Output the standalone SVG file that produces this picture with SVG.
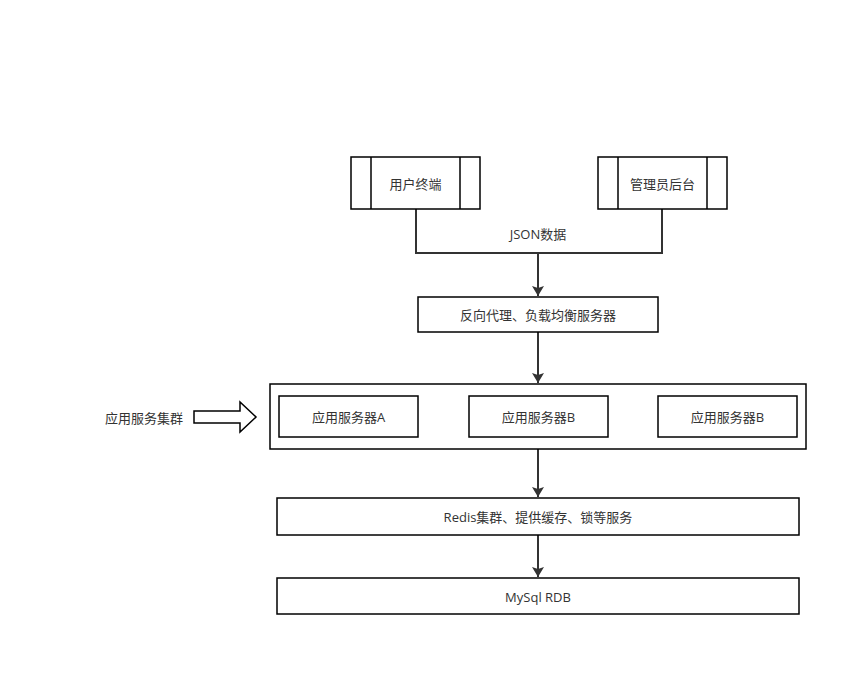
<svg xmlns="http://www.w3.org/2000/svg" width="868" height="677" viewBox="0 0 868 677">
<defs>
<style>
.box{fill:#fff;stroke:#000;stroke-width:1.5}
.ln{fill:none;stroke:#333;stroke-width:2}
.t{font-family:"Open Sans","Noto Sans CJK SC",sans-serif;font-size:13px;fill:#333;text-anchor:middle;dominant-baseline:central}
</style>
<marker id="ah" markerWidth="10" markerHeight="12" viewBox="0 0 10 12" refX="10" refY="6" orient="auto" markerUnits="userSpaceOnUse">
<path d="M0,0 L10,6 L0,12 L2,6 Z" fill="#333"/>
</marker>
</defs>
<rect width="868" height="677" fill="#fff"/>
<g id="connectors">
<path class="ln" d="M416,209 V253 H662 V209"/>
<path class="ln" d="M538,253 V296" marker-end="url(#ah)"/>
<path class="ln" d="M538,332 V383" marker-end="url(#ah)"/>
<path class="ln" d="M538,449 V497" marker-end="url(#ah)"/>
<path class="ln" d="M538,535 V577" marker-end="url(#ah)"/>
<text class="t" x="538" y="234">JSON数据</text>
</g>
<g id="user-terminal">
<rect class="box" x="351" y="157" width="129" height="52"/>
<line class="box" x1="371" y1="157" x2="371" y2="209"/>
<line class="box" x1="460" y1="157" x2="460" y2="209"/>
<text class="t" x="415.5" y="184">用户终端</text>
</g>
<g id="admin">
<rect class="box" x="598" y="157" width="129" height="52"/>
<line class="box" x1="618" y1="157" x2="618" y2="209"/>
<line class="box" x1="707" y1="157" x2="707" y2="209"/>
<text class="t" x="662.5" y="184">管理员后台</text>
</g>
<g id="proxy">
<rect class="box" x="418" y="297" width="240" height="35"/>
<text class="t" x="538" y="315">反向代理、负载均衡服务器</text>
</g>
<g id="cluster-label">
<text class="t" x="144" y="418">应用服务集群</text>
<path class="box" d="M194,411 H240 V402 L256,417 L240,432 V423 H194 Z"/>
</g>
<g id="cluster">
<rect class="box" x="270" y="384" width="536" height="65"/>
</g>
<g id="server-a">
<rect class="box" x="279" y="396" width="139" height="41"/>
<text class="t" x="348.5" y="417">应用服务器A</text>
</g>
<g id="server-b">
<rect class="box" x="469" y="396" width="139" height="41"/>
<text class="t" x="538.5" y="417">应用服务器B</text>
</g>
<g id="server-b2">
<rect class="box" x="658" y="396" width="139" height="41"/>
<text class="t" x="727.5" y="417">应用服务器B</text>
</g>
<g id="redis">
<rect class="box" x="277" y="498" width="522" height="37"/>
<text class="t" x="538" y="517">Redis集群、提供缓存、锁等服务</text>
</g>
<g id="mysql">
<rect class="box" x="277" y="578" width="522" height="36"/>
<text class="t" x="538" y="597">MySql RDB</text>
</g>
</svg>
